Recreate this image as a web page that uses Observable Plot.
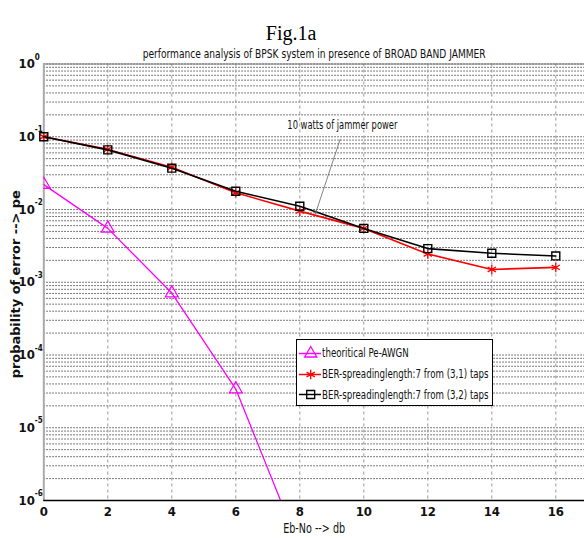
<!DOCTYPE html>
<html>
<head>
<meta charset="utf-8">
<script src="https://cdn.jsdelivr.net/npm/d3@7"></script>
<script src="https://cdn.jsdelivr.net/npm/@observablehq/plot@0.6"></script>
<style>
  body { margin: 0; background: #fff; }
  #wrap { position: relative; width: 584px; height: 538px; overflow: hidden; background: #fff; }
  .narrow { font-family: "Liberation Sans Narrow", "DejaVu Sans Condensed", "Arial Narrow", sans-serif; }
  #legend { position: absolute; left: 296px; top: 339px; width: 197px; height: 67px; border: 1px solid #000; background: #fff; box-sizing: border-box; }
  #legend .row { position: absolute; left: 0; height: 18px; display: flex; align-items: center; font-size: 13px; white-space: nowrap; color: #111; }
  #legend svg { display: block; margin-right: 1px; }
  #legend span { display: inline-block; transform: scaleX(0.74); transform-origin: left center; }
</style>
</head>
<body>
<div id="wrap"></div>
<script>
// ---------- data ----------
const ebno = [0, 2, 4, 6, 8, 10, 12, 14, 16];
const theoX = [0, 2, 4, 6, 8];
const theoPe = [0.022, 0.0055, 0.00071, 0.000034, 0.00000022];
const ber31 = [0.1, 0.067, 0.038, 0.017, 0.0095, 0.0055, 0.00245, 0.0015, 0.0016];
const ber32 = [0.1, 0.066, 0.037, 0.0178, 0.0111, 0.0055, 0.0029, 0.0025, 0.0023];
const xTicks = [0, 2, 4, 6, 8, 10, 12, 14, 16];
const yExponents = [0, -1, -2, -3, -4, -5, -6];
const minorMultipliers = [1, 2, 3, 4, 5, 6, 7, 8, 9];
const annotation = [{x: 9.33, y: 0.147, x1: 9.26, y1: 0.092, x2: 8.49, y2: 0.0088, text: "10 watts of jammer power"}];
const seriesNames = ["theoritical Pe-AWGN", "BER-spreadinglength:7 from (3,1) taps", "BER-spreadinglength:7 from (3,2) taps"];
const titleText = "performance analysis of BPSK system in presence of BROAD BAND JAMMER";
const figText = "Fig.1a";
const xLabel = "Eb-No --> db";
const yLabel = "probability of error --> pe";

// ---------- derived tables ----------
const theo = theoX.map((x, i) => ({x, y: theoPe[i]}));
const s31 = ebno.map((x, i) => ({x, y: ber31[i]}));
const s32 = ebno.map((x, i) => ({x, y: ber32[i]}));
const decadeValues = yExponents.map(e => Math.pow(10, e));
const gridY = [];
yExponents.filter(e => e < 0).forEach(e => minorMultipliers.forEach(m => gridY.push(m * Math.pow(10, e))));
gridY.push(1);

const FONT = '"Liberation Sans Narrow", "DejaVu Sans Condensed", "Arial Narrow", sans-serif';
const W = 584, H = 538, ML = 43.3, MT = 63.5, MB = 38;
const xMax = (W - ML) / 32;

const chart = Plot.plot({
  width: W, height: H,
  marginLeft: ML, marginRight: 0, marginTop: MT, marginBottom: MB,
  style: {fontFamily: FONT, background: "#fff", overflow: "visible"},
  x: {domain: [0, xMax], axis: null},
  y: {type: "log", domain: [1e-6, 1], axis: null},
  marks: [
    Plot.ruleY(gridY, {stroke: "#222", strokeWidth: 0.8, strokeDasharray: "1.5,1.5"}),
    Plot.ruleX(xTicks.slice(1), {stroke: "#999", strokeWidth: 1, strokeDasharray: "3,3"}),
    Plot.ruleY([1], {stroke: "#777", strokeWidth: 1}),
    Plot.ruleX([0], {stroke: "#aaa", strokeWidth: 2}),
    Plot.ruleY([1e-6], {stroke: "#000", strokeWidth: 1.3}),
    // x tick labels
    Plot.text(xTicks, {x: d => d, frameAnchor: "bottom", lineAnchor: "top", dy: 6, text: d => String(d), fontSize: 13, fontWeight: "bold", fill: "#111"}),
    // y tick labels: base and exponent
    Plot.text(decadeValues, {y: d => d, frameAnchor: "left", textAnchor: "end", dx: -9, text: () => "10", fontSize: 13, fontWeight: "bold", fill: "#111"}),
    Plot.text(yExponents, {y: e => Math.pow(10, e), frameAnchor: "left", textAnchor: "start", dx: -9, dy: -7, text: e => String(e), fontSize: 8, fontWeight: "bold", fill: "#111"}),
    // series
    Plot.line(theo, {x: "x", y: "y", stroke: "#ff00ff", strokeWidth: 1.3, clip: true}),
    Plot.dot(theo, {x: "x", y: "y", symbol: "triangle", r: 4.8, stroke: "#ff00ff", fill: "none", strokeWidth: 1.2, clip: true}),
    Plot.line(s31, {x: "x", y: "y", stroke: "#ff0000", strokeWidth: 1.6}),
    Plot.dot(s31, {x: "x", y: "y", symbol: "asterisk", r: 4.5, stroke: "#ff0000", strokeWidth: 1.3}),
    Plot.line(s32, {x: "x", y: "y", stroke: "#000", strokeWidth: 1.6}),
    Plot.dot(s32, {x: "x", y: "y", symbol: "square", r: 4.5, stroke: "#000", fill: "none", strokeWidth: 1.4}),
    // annotation
    Plot.arrow(annotation, {x1: "x1", y1: "y1", x2: "x2", y2: "y2", stroke: "#666", strokeWidth: 0.8, headLength: 6}),
    Plot.text(annotation, {x: "x", y: "y", text: "text", fontSize: 13, fill: "#111"}),
    // titles and axis labels
    Plot.text([titleText], {frameAnchor: "top", lineAnchor: "bottom", dy: -6, text: d => d, fontSize: 13, fill: "#111"}),
    Plot.text([figText], {frameAnchor: "top", lineAnchor: "bottom", dy: -24, dx: -23, text: d => d, fontSize: 20, fontFamily: '"Liberation Serif", "Times New Roman", serif', fill: "#000"}),
    Plot.text([xLabel], {frameAnchor: "bottom", lineAnchor: "top", dy: 23, text: d => d, fontSize: 14, fill: "#111"}),
    Plot.text([yLabel], {frameAnchor: "left", textAnchor: "middle", rotate: -90, dx: -28, dy: 2, text: d => d, fontSize: 13, fontWeight: "bold", fill: "#111"})
  ]
});

// condense the long texts to match the narrow original lettering
const condensed = new Map([[titleText, 343], [annotation[0].text, 110], [xLabel, 62], [yLabel, 188]]);
d3.select(chart).selectAll("text").each(function () {
  const w = condensed.get(this.textContent);
  if (w) { this.setAttribute("textLength", w); this.setAttribute("lengthAdjust", "spacingAndGlyphs"); }
});

const wrap = document.getElementById("wrap");
wrap.appendChild(chart);

// ---------- legend ----------
const legend = document.createElement("div");
legend.id = "legend";
legend.className = "narrow";
const symbols = [
  {color: "#ff00ff", shape: "triangle"},
  {color: "#ff0000", shape: "asterisk"},
  {color: "#000000", shape: "square"}
];
const rowTops = [3.5, 24.5, 45];
seriesNames.forEach((name, i) => {
  const row = document.createElement("div");
  row.className = "row";
  row.style.top = rowTops[i] + "px";
  const sym = Plot.plot({
    width: 24, height: 18, margin: 0,
    x: {domain: [0, 1], axis: null}, y: {domain: [0, 1], axis: null},
    style: {overflow: "visible", background: "transparent"},
    marks: [
      Plot.ruleY([0.5], {x1: 0.08, x2: 1, stroke: symbols[i].color, strokeWidth: 1.5}),
      Plot.dot([0.55], {x: d => d, y: 0.5, symbol: symbols[i].shape, r: 4.5, stroke: symbols[i].color, fill: "none", strokeWidth: 1.3})
    ]
  });
  row.appendChild(sym);
  const t = document.createElement("span");
  t.textContent = name;
  row.appendChild(t);
  legend.appendChild(row);
});
wrap.appendChild(legend);
</script>
</body>
</html>
